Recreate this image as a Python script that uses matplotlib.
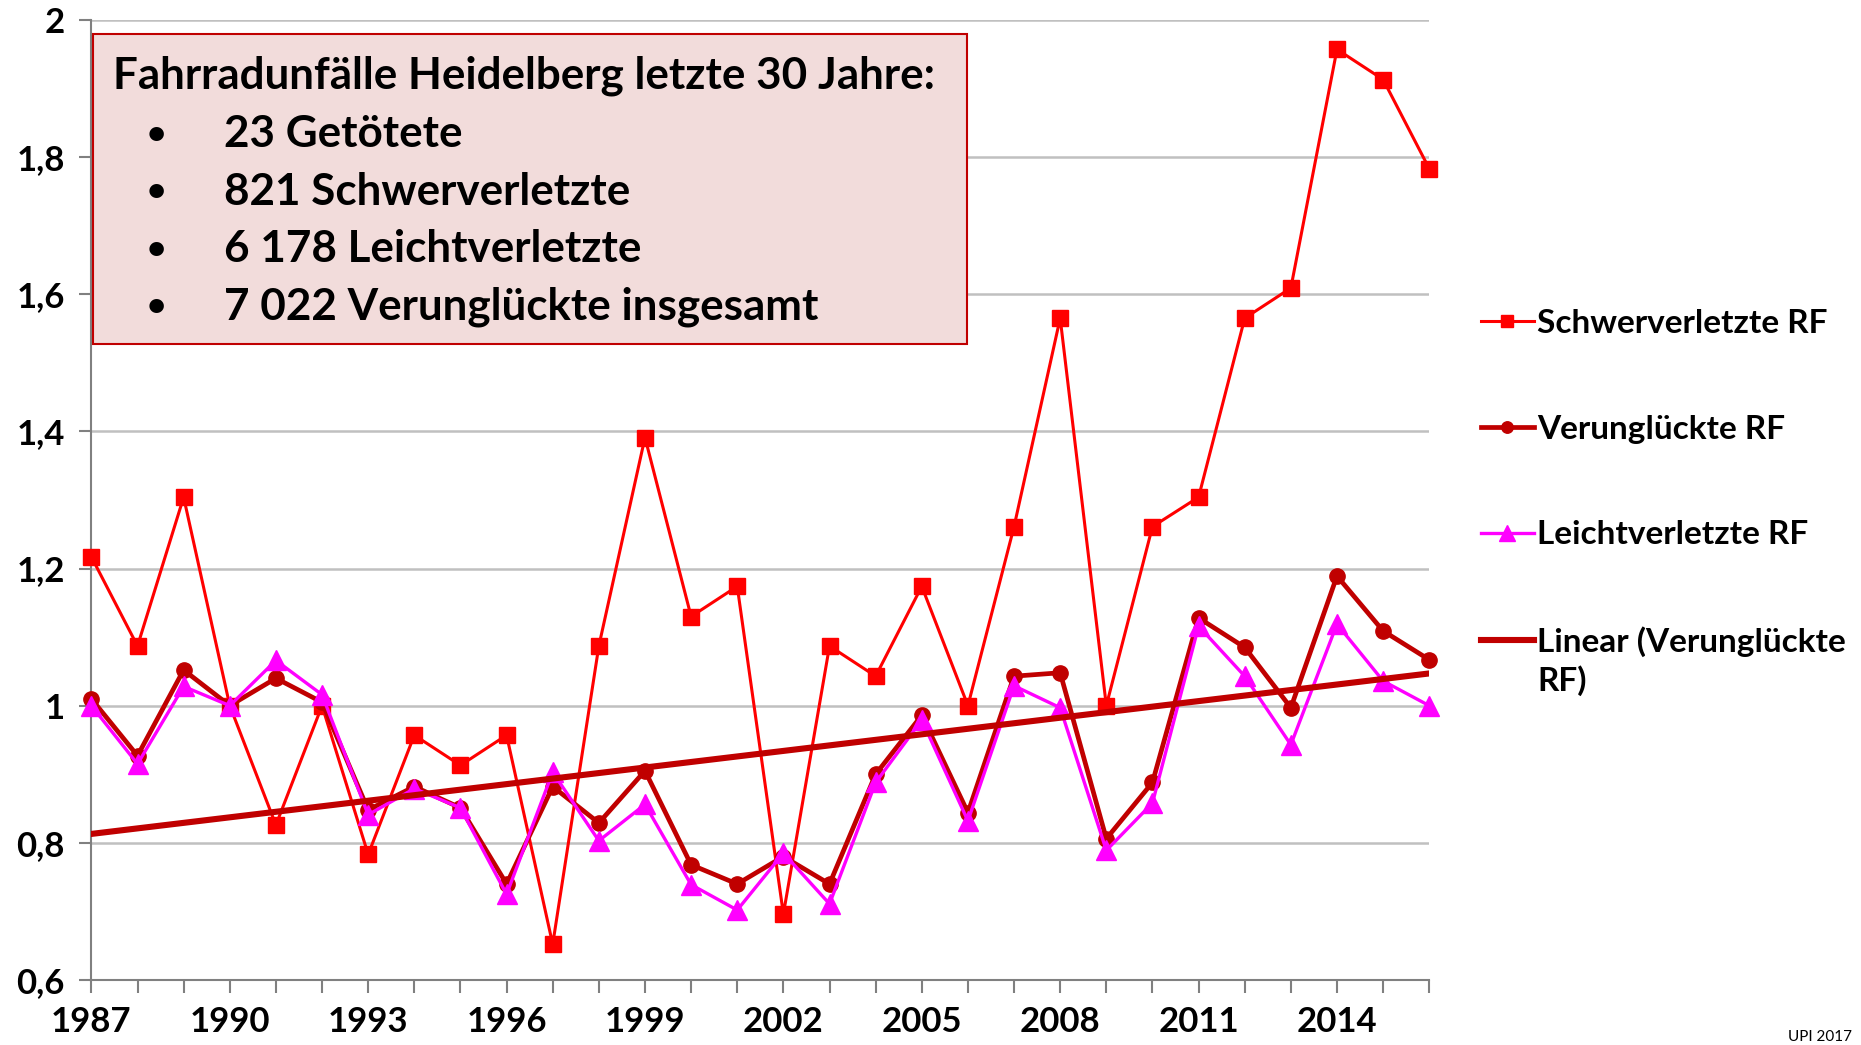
import numpy as np
import matplotlib
matplotlib.use("Agg")
import matplotlib.pyplot as plt
from matplotlib.patches import Rectangle

plt.rcParams['font.family'] = ['Lato', 'DejaVu Sans']
plt.rcParams['font.weight'] = 'bold'

# Daten (Verhaeltnis zum Mittelwert / Basisjahr)
jahre = list(range(1987, 2017))
schwer = [1.217, 1.087, 1.304, 1.000, 0.826, 1.000, 0.783, 0.957, 0.913, 0.957,
          0.652, 1.087, 1.391, 1.130, 1.174, 0.696, 1.087, 1.043, 1.174, 1.000,
          1.261, 1.565, 1.000, 1.261, 1.304, 1.565, 1.609, 1.957, 1.913, 1.783]
verung = [1.010, 0.927, 1.052, 1.000, 1.040, 1.005, 0.848, 0.882, 0.851, 0.740,
          0.882, 0.829, 0.905, 0.768, 0.740, 0.780, 0.740, 0.900, 0.986, 0.844,
          1.043, 1.048, 0.806, 0.888, 1.128, 1.085, 0.997, 1.189, 1.109, 1.067]
leicht = [1.000, 0.915, 1.028, 1.000, 1.066, 1.016, 0.841, 0.879, 0.851, 0.725,
          0.903, 0.803, 0.856, 0.739, 0.702, 0.785, 0.711, 0.888, 0.979, 0.832,
          1.029, 0.997, 0.789, 0.858, 1.116, 1.043, 0.943, 1.119, 1.036, 1.000]
# Trendlinie (Excel) Anfangs- und Endwert
trend_jahre = [1987, 2016]
trend_werte = [0.813, 1.047]
y_ticks = [0.6, 0.8, 1.0, 1.2, 1.4, 1.6, 1.8, 2.0]
y_labels = ['0,6', '0,8', '1', '1,2', '1,4', '1,6', '1,8', '2']
info_titel = 'Fahrradunfälle Heidelberg letzte 30 Jahre:'
info_zeilen = ['23 Getötete', '821 Schwerverletzte', '6 178 Leichtverletzte',
               '7 022 Verunglückte insgesamt']

fig = plt.figure(figsize=(18.61, 10.45), dpi=100)
ax = fig.add_axes([0.0491, 0.0622, 0.7189, 0.9188])

x = np.array(jahre)
ax.plot(x, schwer, color='#FF0000', lw=2.2, marker='s', ms=12, label='Schwerverletzte RF',
        zorder=3, clip_on=False)
ax.plot(x, verung, color='#C00000', lw=3.4, marker='o', ms=11, label='Verunglückte RF',
        zorder=4, clip_on=False)
ax.plot(x, leicht, color='#FF00FF', lw=2.4, marker='^', ms=14.5, label='Leichtverletzte RF',
        zorder=5, clip_on=False)
ax.plot(trend_jahre, trend_werte, color='#C00000', lw=4.4, label='Linear (Verunglückte',
        zorder=6)

ax.set_xlim(1987, 2016)
ax.set_ylim(0.6, 2.0)
ax.set_xticks(jahre)
ax.set_xticklabels([str(j) if (j - 1987) % 3 == 0 else '' for j in jahre])
ax.set_yticks(y_ticks)
ax.set_yticklabels(y_labels)
ax.tick_params(axis='both', labelsize=25, length=9, width=1.5, color='#808080')
ax.tick_params(axis='x', pad=10)
ax.tick_params(axis='y', pad=10)
for lab in ax.get_xticklabels() + ax.get_yticklabels():
    lab.set_fontweight('bold')
ax.grid(axis='y', color='#C0C0C0', lw=1.8)
ax.set_axisbelow(True)
for s in ['top', 'right']:
    ax.spines[s].set_visible(False)
for s in ['left', 'bottom']:
    ax.spines[s].set_color('#808080')
    ax.spines[s].set_linewidth(1.5)

# Infokasten
box = Rectangle((0.001, 0.6625), 0.6537, 0.3225, transform=ax.transAxes,
                facecolor='#F2DCDB', edgecolor='#C00000', lw=1.5, zorder=7)
ax.add_patch(box)
ax.text(0.0161, 0.942, info_titel, transform=ax.transAxes, fontsize=31.7,
        fontweight='bold', va='center', ha='left', zorder=8)
for i, z in enumerate(info_zeilen):
    yy = 0.8807 - i * 0.0598
    ax.text(0.0485, yy, '•', transform=ax.transAxes, fontsize=24,
            fontweight='bold', va='center', ha='center', zorder=8)
    ax.text(0.0992, yy, z, transform=ax.transAxes, fontsize=31.7,
            fontweight='bold', va='center', ha='left', zorder=8)

leg = fig.legend(loc='upper left', bbox_to_anchor=(0.7795, 0.733), frameon=False,
                 fontsize=24, handlelength=1.6, handletextpad=0.1,
                 labelspacing=2.3, markerscale=0.75)
for t in leg.get_texts():
    t.set_fontweight('bold')

# zweite Zeile des letzten Legendeneintrags
fig.canvas.draw()
bb = leg.get_texts()[-1].get_window_extent().transformed(fig.transFigure.inverted())
fig.text(bb.x0, bb.y0 - 0.008, 'RF)', ha='left', va='top', fontsize=24, fontweight='bold')

fig.text(0.995, 0.001, 'UPI 2017', ha='right', va='bottom', fontsize=11,
         fontweight='normal')

fig.savefig('out.png', dpi=100)
